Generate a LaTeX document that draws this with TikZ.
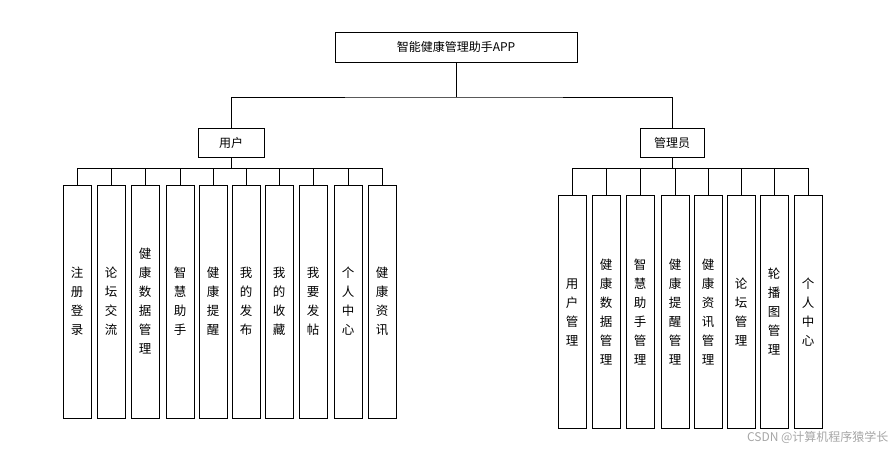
\documentclass[tikz,border=0pt]{standalone}
\usepackage{fontspec}
\setmainfont{Noto Sans CJK SC}
\begin{document}
\begin{tikzpicture}[x=1pt,y=-1pt,
  box/.style={draw,line width=0.8pt,inner sep=0pt,font=\fontsize{12}{14}\selectfont},
  vbox/.style={draw,line width=0.8pt,inner sep=0pt,minimum width=28pt,align=center,font=\fontsize{12.5}{19}\selectfont},
  ln/.style={line width=0.8pt}]
\useasboundingbox (0,0) rectangle (895,452);
\node[box,minimum width=242pt,minimum height=30pt] (root) at (456,47) {智能健康管理助手APP};
\node[box,minimum width=66pt,minimum height=29pt] (user) at (231,143) {用户};
\node[box,minimum width=64pt,minimum height=29pt] (admin) at (672,143) {管理员};
\draw[ln] (root.south) -- (456,97) coordinate (j);
\draw[ln] (user.north) |- (j) -| (admin.north);
% user children
\foreach \n/\x/\t in {u1/77/注\\册\\登\\录, u2/111/论\\坛\\交\\流, u3/145/健\\康\\数\\据\\管\\理, u4/180/智\\慧\\助\\手, u5/213/健\\康\\提\\醒, u6/246/我\\的\\发\\布, u7/279/我\\的\\收\\藏, u8/313/我\\要\\发\\帖, u9/348/个\\人\\中\\心, u10/382/健\\康\\资\\讯}{
  \node[vbox,minimum height=233pt] (\n) at (\x,301.5) {\t};
  \draw[ln] (\n.north) -- (\x,168);
}
\draw[ln] (user.south) -- (231,168);
\draw[ln] (u1.north |- 0,168) -- (u10.north |- 0,168);
% admin children
\foreach \n/\x/\t in {a1/572/用\\户\\管\\理, a2/606/健\\康\\数\\据\\管\\理, a3/640/智\\慧\\助\\手\\管\\理, a4/675/健\\康\\提\\醒\\管\\理, a5/708/健\\康\\资\\讯\\管\\理, a6/741/论\\坛\\管\\理, a7/774/轮\\播\\图\\管\\理, a8/808/个\\人\\中\\心}{
  \node[vbox,minimum height=233pt] (\n) at (\x,312) {\t};
  \draw[ln] (\n.north) -- (\x,168);
}
\draw[ln] (admin.south) -- (672,168);
\draw[ln] (a1.north |- 0,168) -- (a8.north |- 0,168);
\node[text=gray!70,font=\fontsize{12}{14}\selectfont,anchor=east] (wm) at (892,437) {CSDN @计算机程序猿学长};
\end{tikzpicture}
\end{document}
